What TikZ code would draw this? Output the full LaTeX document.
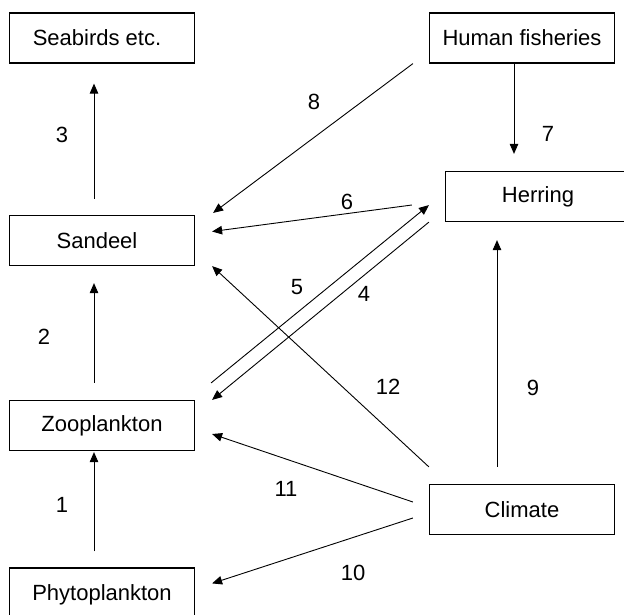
\documentclass[tikz,border=0pt]{standalone}
\usepackage{fontspec}
\setmainfont{Liberation Sans}
\usetikzlibrary{calc,arrows.meta}
\begin{document}
\begin{tikzpicture}[x=1pt,y=-1pt,
  box/.style={draw,line width=1.2pt,minimum width=185pt,minimum height=50pt,inner sep=0pt,font=\fontsize{22}{24}\selectfont},
  lbl/.style={font=\fontsize{22}{24}\selectfont,inner sep=0pt},
  arr/.style={line width=0.9pt,-{Triangle[length=10pt,width=8.5pt]}},
  ln/.style={line width=0.9pt}]
\useasboundingbox (0,0) rectangle (624,614);
\begin{scope}
\clip (0,0) rectangle (624,614);
\node[box] (seabirds) at (102,38) {Seabirds etc.\hspace*{10pt}};
\node[box] (fisheries) at (522,38) {Human fisheries};
\node[box] (herring) at (538,196.5) {Herring};
\node[box] (sandeel) at (102,240.5) {Sandeel\hspace*{10pt}};
\node[box] (zoo) at (102,425.5) {Zooplankton};
\node[box] (climate) at (522,509.5) {Climate};
\node[box,minimum height=54pt] (phyto) at (102,595) {Phytoplankton};
\end{scope}
% arrows
\draw[arr] ($(sandeel.north)+(-8,-16)$) -- ($(seabirds.south)+(-8,20)$);
\draw[arr] ($(zoo.north)+(-8,-17)$) -- ($(sandeel.south)+(-8,17)$);
\draw[arr] ($(phyto.north)+(-8,-16)$) -- ($(zoo.south)+(-8,1)$);
\draw[arr] ($(fisheries.south)+(-8,0)$) -- ($(herring.north)+(-24,-17)$);
\draw[arr] ($(fisheries.south west)+(-16,0)$) -- ($(sandeel.north east)+(18,-2)$);
\draw[arr] ($(herring.west)+(-33,8.5)$) -- ($(sandeel.east)+(17,-9)$);
\draw[arr] ($(zoo.north east)+(16,-17)$) -- ($(herring.south west)+(-16,-17)$);
\draw[arr] ($(herring.south west)+(-16,0)$) -- ($(zoo.north east)+(17,0)$);
\draw[arr] ($(climate.north)+(-25,-17)$) -- ($(herring.south)+(-41,18)$);
\draw[arr] ($(climate.north west)+(0,-17)$) -- ($(sandeel.south east)+(17,0)$);
\draw[arr] ($(climate.west)+(-16,-7.5)$) -- ($(zoo.east)+(17,8.5)$);
\draw[arr] ($(climate.west)+(-16,8.5)$) -- ($(phyto.north east)+(17,16)$);
% labels
\node[lbl] (l1) at (62,505) {1};
\node[lbl] (l2) at (44,337) {2};
\node[lbl] (l3) at (62,135) {3};
\node[lbl] (l4) at (364,294) {4};
\node[lbl] (l5) at (297,287) {5};
\node[lbl] (l6) at (347,202) {6};
\node[lbl] (l7) at (548,134) {7};
\node[lbl] (l8) at (314,102) {8};
\node[lbl] (l9) at (533,388) {9};
\node[lbl] (l10) at (353,573) {10};
\node[lbl] (l11) at (286,489) {11};
\node[lbl] (l12) at (388,387) {12};
\end{tikzpicture}
\end{document}
